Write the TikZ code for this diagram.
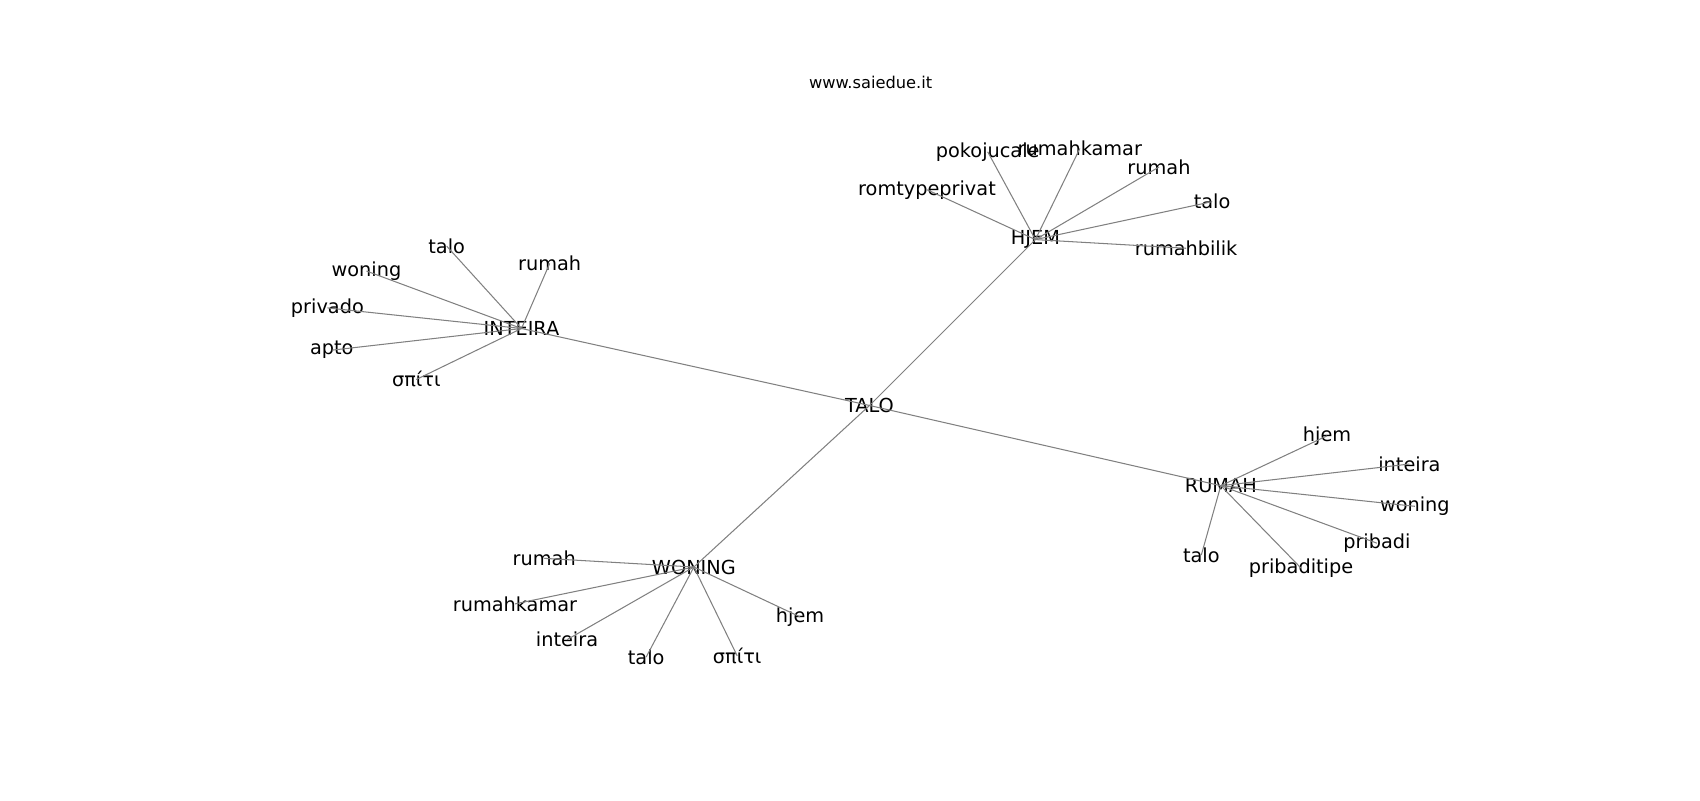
\documentclass[tikz,border=0pt]{standalone}
\usepackage{fontspec}
\setmainfont{DejaVu Sans}
\usepackage{tikz}

\begin{document}
\begin{tikzpicture}[x=0.7807pt, y=-0.7807pt]
    \tikzstyle{word}=[inner sep=0pt,font=\fontsize{13.9}{16}\selectfont]
    \tikzstyle{edge}=[draw=black!50,line width=0.75pt]
    \useasboundingbox (0,0) rectangle (1568,738);
    \node[font=\fontsize{11.7}{14}\selectfont] (title) at (803,76) {www.saiedue.it};
    % hubs
    \node[word] (talo) at (802,374) {TALO};
    \node[word] (inteira) at (481,303) {INTEIRA};
    \node[word] (hjem) at (955,221) {HJEM};
    \node[word] (rumah) at (1126,448) {RUMAH};
    \node[word] (woning) at (640,523) {WONING};
    % HJEM
    \node[word] (hpoko) at (911,140) {pokojucale};
    \node[word] (hkamar) at (996,137) {rumahkamar};
    \node[word] (hrumah) at (1069,154) {rumah};
    \node[word] (htalo) at (1118,186) {talo};
    \node[word] (hbilik) at (1094,229) {rumahbilik};
    \node[word] (hrom) at (855,175) {romtypeprivat};
    % INTEIRA
    \node[word] (italo) at (412,227) {talo};
    \node[word] (irumah) at (507,243) {rumah};
    \node[word] (iwoning) at (338,250) {woning};
    \node[word] (iprivado) at (302,284) {privado};
    \node[word] (iapto) at (306,323) {apto};
    \node[word] (ispiti) at (384,350) {σπίτι};
    % RUMAH
    \node[word] (rhjem) at (1224,402) {hjem};
    \node[word] (rinteira) at (1300,428) {inteira};
    \node[word] (rwoning) at (1305,467) {woning};
    \node[word] (rpribadi) at (1270,501) {pribadi};
    \node[word] (rtipe) at (1200,524) {pribaditipe};
    \node[word] (rtalo) at (1108,512) {talo};
    % WONING
    \node[word] (wrumah) at (502,515) {rumah};
    \node[word] (wkamar) at (475,557) {rumahkamar};
    \node[word] (winteira) at (523,590) {inteira};
    \node[word] (wtalo) at (596,606) {talo};
    \node[word] (wspiti) at (680,605) {σπίτι};
    \node[word] (whjem) at (738,569) {hjem};
    % edges
    \draw[edge] (talo.center) -- (inteira.center);
    \draw[edge] (talo.center) -- (hjem.center);
    \draw[edge] (talo.center) -- (rumah.center);
    \draw[edge] (talo.center) -- (woning.center);
    \draw[edge] (hjem.center) -- (hpoko.center);
    \draw[edge] (hjem.center) -- (hkamar.center);
    \draw[edge] (hjem.center) -- (hrumah.center);
    \draw[edge] (hjem.center) -- (htalo.center);
    \draw[edge] (hjem.center) -- (hbilik.center);
    \draw[edge] (hjem.center) -- (hrom.center);
    \draw[edge] (inteira.center) -- (italo.center);
    \draw[edge] (inteira.center) -- (irumah.center);
    \draw[edge] (inteira.center) -- (iwoning.center);
    \draw[edge] (inteira.center) -- (iprivado.center);
    \draw[edge] (inteira.center) -- (iapto.center);
    \draw[edge] (inteira.center) -- (ispiti.center);
    \draw[edge] (rumah.center) -- (rhjem.center);
    \draw[edge] (rumah.center) -- (rinteira.center);
    \draw[edge] (rumah.center) -- (rwoning.center);
    \draw[edge] (rumah.center) -- (rpribadi.center);
    \draw[edge] (rumah.center) -- (rtipe.center);
    \draw[edge] (rumah.center) -- (rtalo.center);
    \draw[edge] (woning.center) -- (wrumah.center);
    \draw[edge] (woning.center) -- (wkamar.center);
    \draw[edge] (woning.center) -- (winteira.center);
    \draw[edge] (woning.center) -- (wtalo.center);
    \draw[edge] (woning.center) -- (wspiti.center);
    \draw[edge] (woning.center) -- (whjem.center);
  \end{tikzpicture}
\end{document}
